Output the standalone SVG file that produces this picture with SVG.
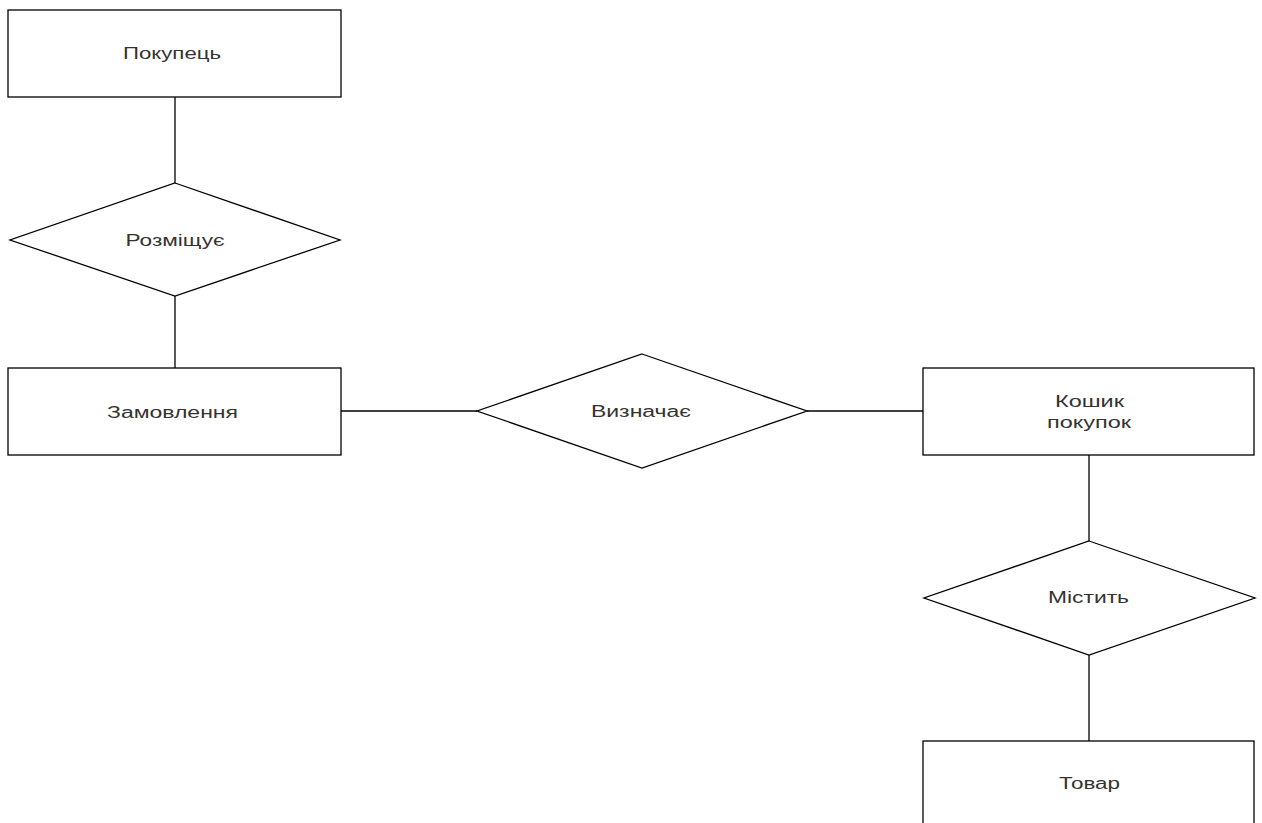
<svg xmlns="http://www.w3.org/2000/svg" width="1262" height="823" viewBox="0 0 1262 823">
<style>
.shape{fill:#fff;stroke:#000;stroke-width:1.3}
.edge{stroke:#000;stroke-width:1.3;fill:none}
.lbl{font-family:"Liberation Sans",Arial,sans-serif;font-size:16px;fill:#333;text-anchor:middle}
</style>
<rect width="1262" height="823" fill="#fff"/>
<g id="connectors">
<line class="edge" x1="175" y1="97" x2="175" y2="183"/>
<line class="edge" x1="175" y1="296" x2="175" y2="368"/>
<line class="edge" x1="341" y1="411" x2="477" y2="411"/>
<line class="edge" x1="807" y1="411" x2="923" y2="411"/>
<line class="edge" x1="1089" y1="455" x2="1089" y2="541"/>
<line class="edge" x1="1089" y1="655" x2="1089" y2="741"/>
</g>
<g id="pokupets">
<rect class="shape" x="8" y="10" width="333" height="87"/>
<text class="lbl" x="172" y="59" textLength="98" lengthAdjust="spacingAndGlyphs">Покупець</text>
</g>
<g id="rozmishchuie">
<polygon class="shape" points="175,183 340,240 175,296 10,240"/>
<text class="lbl" x="175" y="246" textLength="99" lengthAdjust="spacingAndGlyphs">Розміщує</text>
</g>
<g id="zamovlennia">
<rect class="shape" x="8" y="368" width="333" height="87"/>
<text class="lbl" x="172.5" y="418" textLength="131" lengthAdjust="spacingAndGlyphs">Замовлення</text>
</g>
<g id="vyznachaie">
<polygon class="shape" points="642,354 807,411 642,468 477,411"/>
<text class="lbl" x="641" y="417" textLength="100" lengthAdjust="spacingAndGlyphs">Визначає</text>
</g>
<g id="koshyk">
<rect class="shape" x="923" y="368" width="331" height="87"/>
<text class="lbl" x="1089.5" y="407" textLength="69" lengthAdjust="spacingAndGlyphs">Кошик</text>
<text class="lbl" x="1089" y="428" textLength="84" lengthAdjust="spacingAndGlyphs">покупок</text>
</g>
<g id="mistyt">
<polygon class="shape" points="1089,541 1255,598 1089,655 924,598"/>
<text class="lbl" x="1088.5" y="603" textLength="81" lengthAdjust="spacingAndGlyphs">Містить</text>
</g>
<g id="tovar">
<rect class="shape" x="923" y="741" width="331" height="87"/>
<text class="lbl" x="1089.5" y="789" textLength="61" lengthAdjust="spacingAndGlyphs">Товар</text>
</g>
</svg>
